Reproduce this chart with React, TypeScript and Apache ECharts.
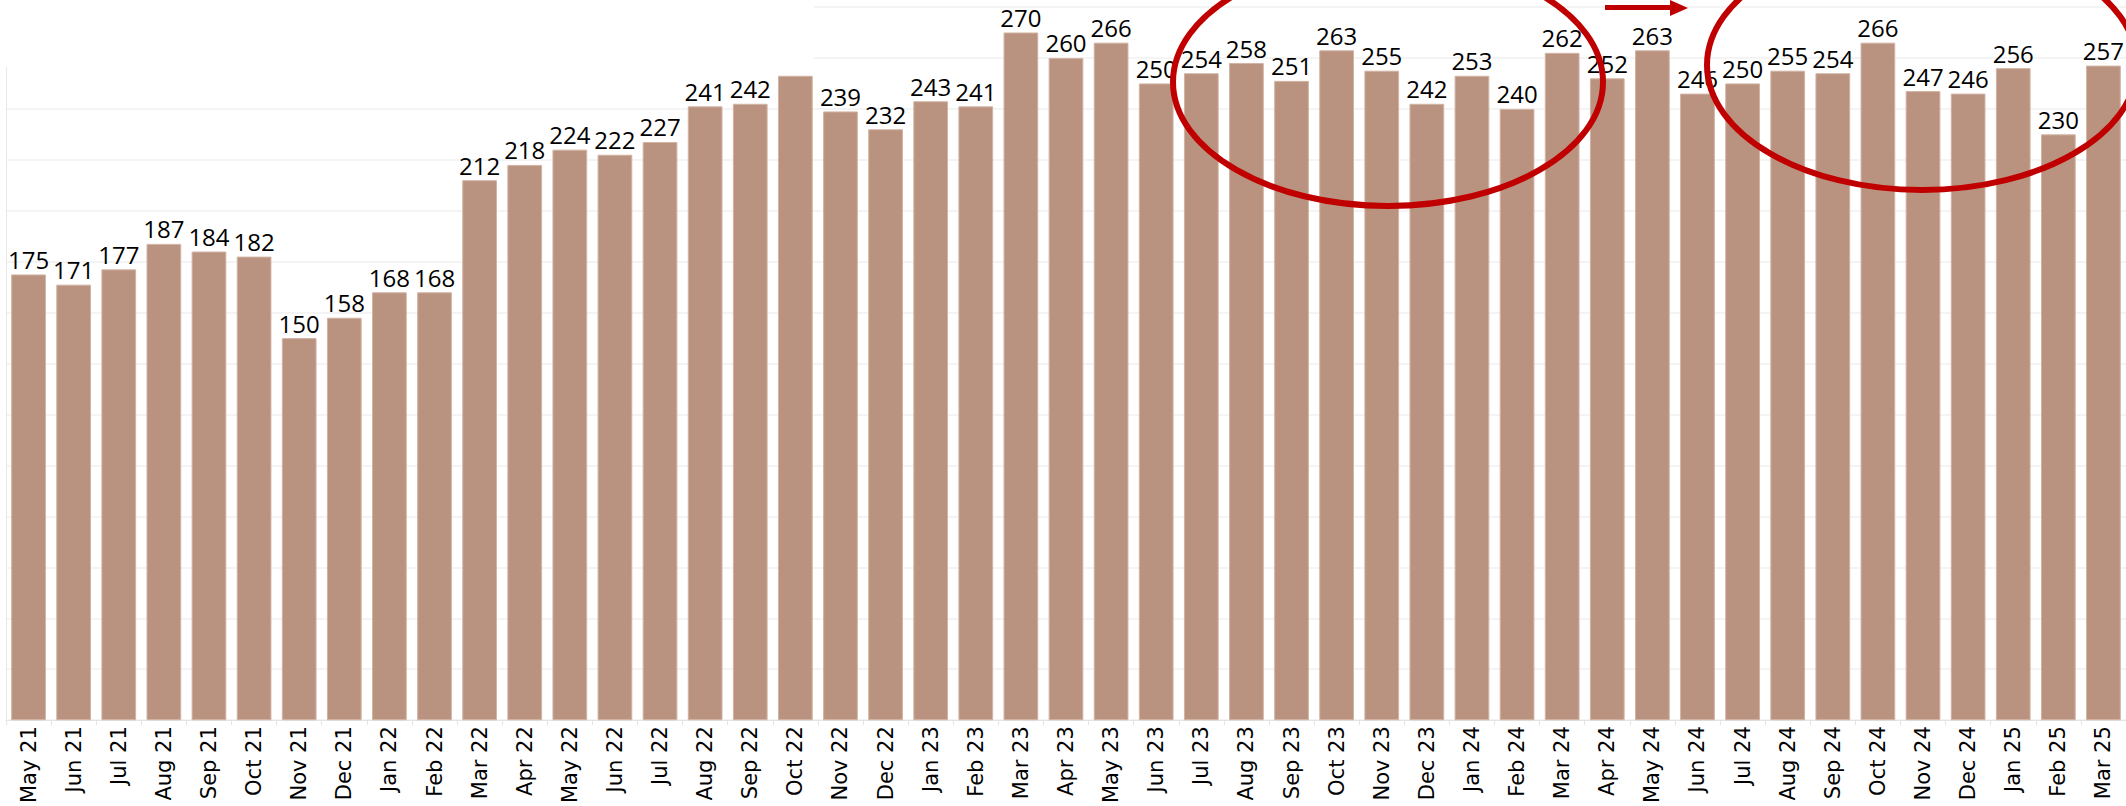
import React, { useEffect, useRef } from "react";
import * as echarts from "echarts";

const categories = [
  "May 21", "Jun 21", "Jul 21", "Aug 21", "Sep 21", "Oct 21", "Nov 21", "Dec 21",
  "Jan 22", "Feb 22", "Mar 22", "Apr 22", "May 22", "Jun 22", "Jul 22", "Aug 22", "Sep 22", "Oct 22", "Nov 22", "Dec 22",
  "Jan 23", "Feb 23", "Mar 23", "Apr 23", "May 23", "Jun 23", "Jul 23", "Aug 23", "Sep 23", "Oct 23", "Nov 23", "Dec 23",
  "Jan 24", "Feb 24", "Mar 24", "Apr 24", "May 24", "Jun 24", "Jul 24", "Aug 24", "Sep 24", "Oct 24", "Nov 24", "Dec 24",
  "Jan 25", "Feb 25", "Mar 25",
];

const values = [
  175, 171, 177, 187, 184, 182, 150, 158,
  168, 168, 212, 218, 224, 222, 227, 241, 242, 253, 239, 232,
  243, 241, 270, 260, 266, 250, 254, 258, 251, 263, 255, 242,
  253, 240, 262, 252, 263, 246, 250, 255, 254, 266, 247, 246,
  256, 230, 257,
];

// the label of this month is hidden in the reference
const hiddenLabels = ["Oct 22"];

const yTicks = { min: 0, max: 280, interval: 20 };

export default function App() {
  const ref = useRef<HTMLDivElement>(null);
  useEffect(() => {
    if (!ref.current) return;
    const chart = echarts.init(ref.current, undefined, { renderer: "svg" });
    const red = "#c00000";
    const data = values.map((v, i) =>
      hiddenLabels.includes(categories[i]) ? { value: v, label: { show: false } } : v
    );
    chart.setOption({
      animation: false,
      backgroundColor: "#ffffff",
      grid: { left: 6, right: -4, top: 7, bottom: 83.5, containLabel: false },
      xAxis: {
        type: "category",
        data: categories,
        axisLine: { show: true, lineStyle: { color: "#e4e4e4", width: 1 } },
        axisTick: { show: true, length: 5, lineStyle: { color: "#e4e4e4" } },
        axisLabel: {
          rotate: 90,
          interval: 0,
          margin: 6,
          color: "#000000",
          fontFamily: "DejaVu Sans",
          fontSize: 21,
        },
      },
      yAxis: {
        type: "value",
        min: yTicks.min,
        max: yTicks.max,
        interval: yTicks.interval,
        axisLabel: { show: false },
        axisTick: { show: false },
        axisLine: { show: true, lineStyle: { color: "#e8e8e8", width: 1 } },
        splitLine: { show: true, lineStyle: { color: "#f0f0f0", width: 1.5 } },
      },
      series: [
        {
          type: "bar",
          data,
          barCategoryGap: "23%",
          itemStyle: { color: "#b9937f", borderColor: "#d2b3a4", borderWidth: 1 },
          label: {
            show: true,
            position: "top",
            distance: 3,
            color: "#000000",
            fontFamily: "Open Sans",
            fontSize: 24,
          },
        },
      ],
      graphic: [
        {
          type: "rect",
          z: 100,
          shape: { x: 0, y: 0, width: 814, height: 67 },
          style: { fill: "#ffffff" },
        },
        {
          type: "ellipse",
          z: 110,
          shape: { cx: 1388, cy: 82, rx: 215, ry: 124 },
          style: { fill: "none", stroke: red, lineWidth: 6 },
        },
        {
          type: "ellipse",
          z: 110,
          shape: { cx: 1922, cy: 65, rx: 215, ry: 125 },
          style: { fill: "none", stroke: red, lineWidth: 6 },
        },
        {
          type: "line",
          z: 110,
          shape: { x1: 1605, y1: 7.5, x2: 1674, y2: 7.5 },
          style: { stroke: red, lineWidth: 5 },
        },
        {
          type: "polygon",
          z: 110,
          shape: { points: [[1670, 0], [1688, 8], [1670, 16]] },
          style: { fill: red },
        },
      ],
    });
    return () => chart.dispose();
  }, []);
  return (
    <div
      ref={ref}
      style={{ position: "fixed", left: 0, top: 0, width: 2126, height: 806 }}
    />
  );
}
